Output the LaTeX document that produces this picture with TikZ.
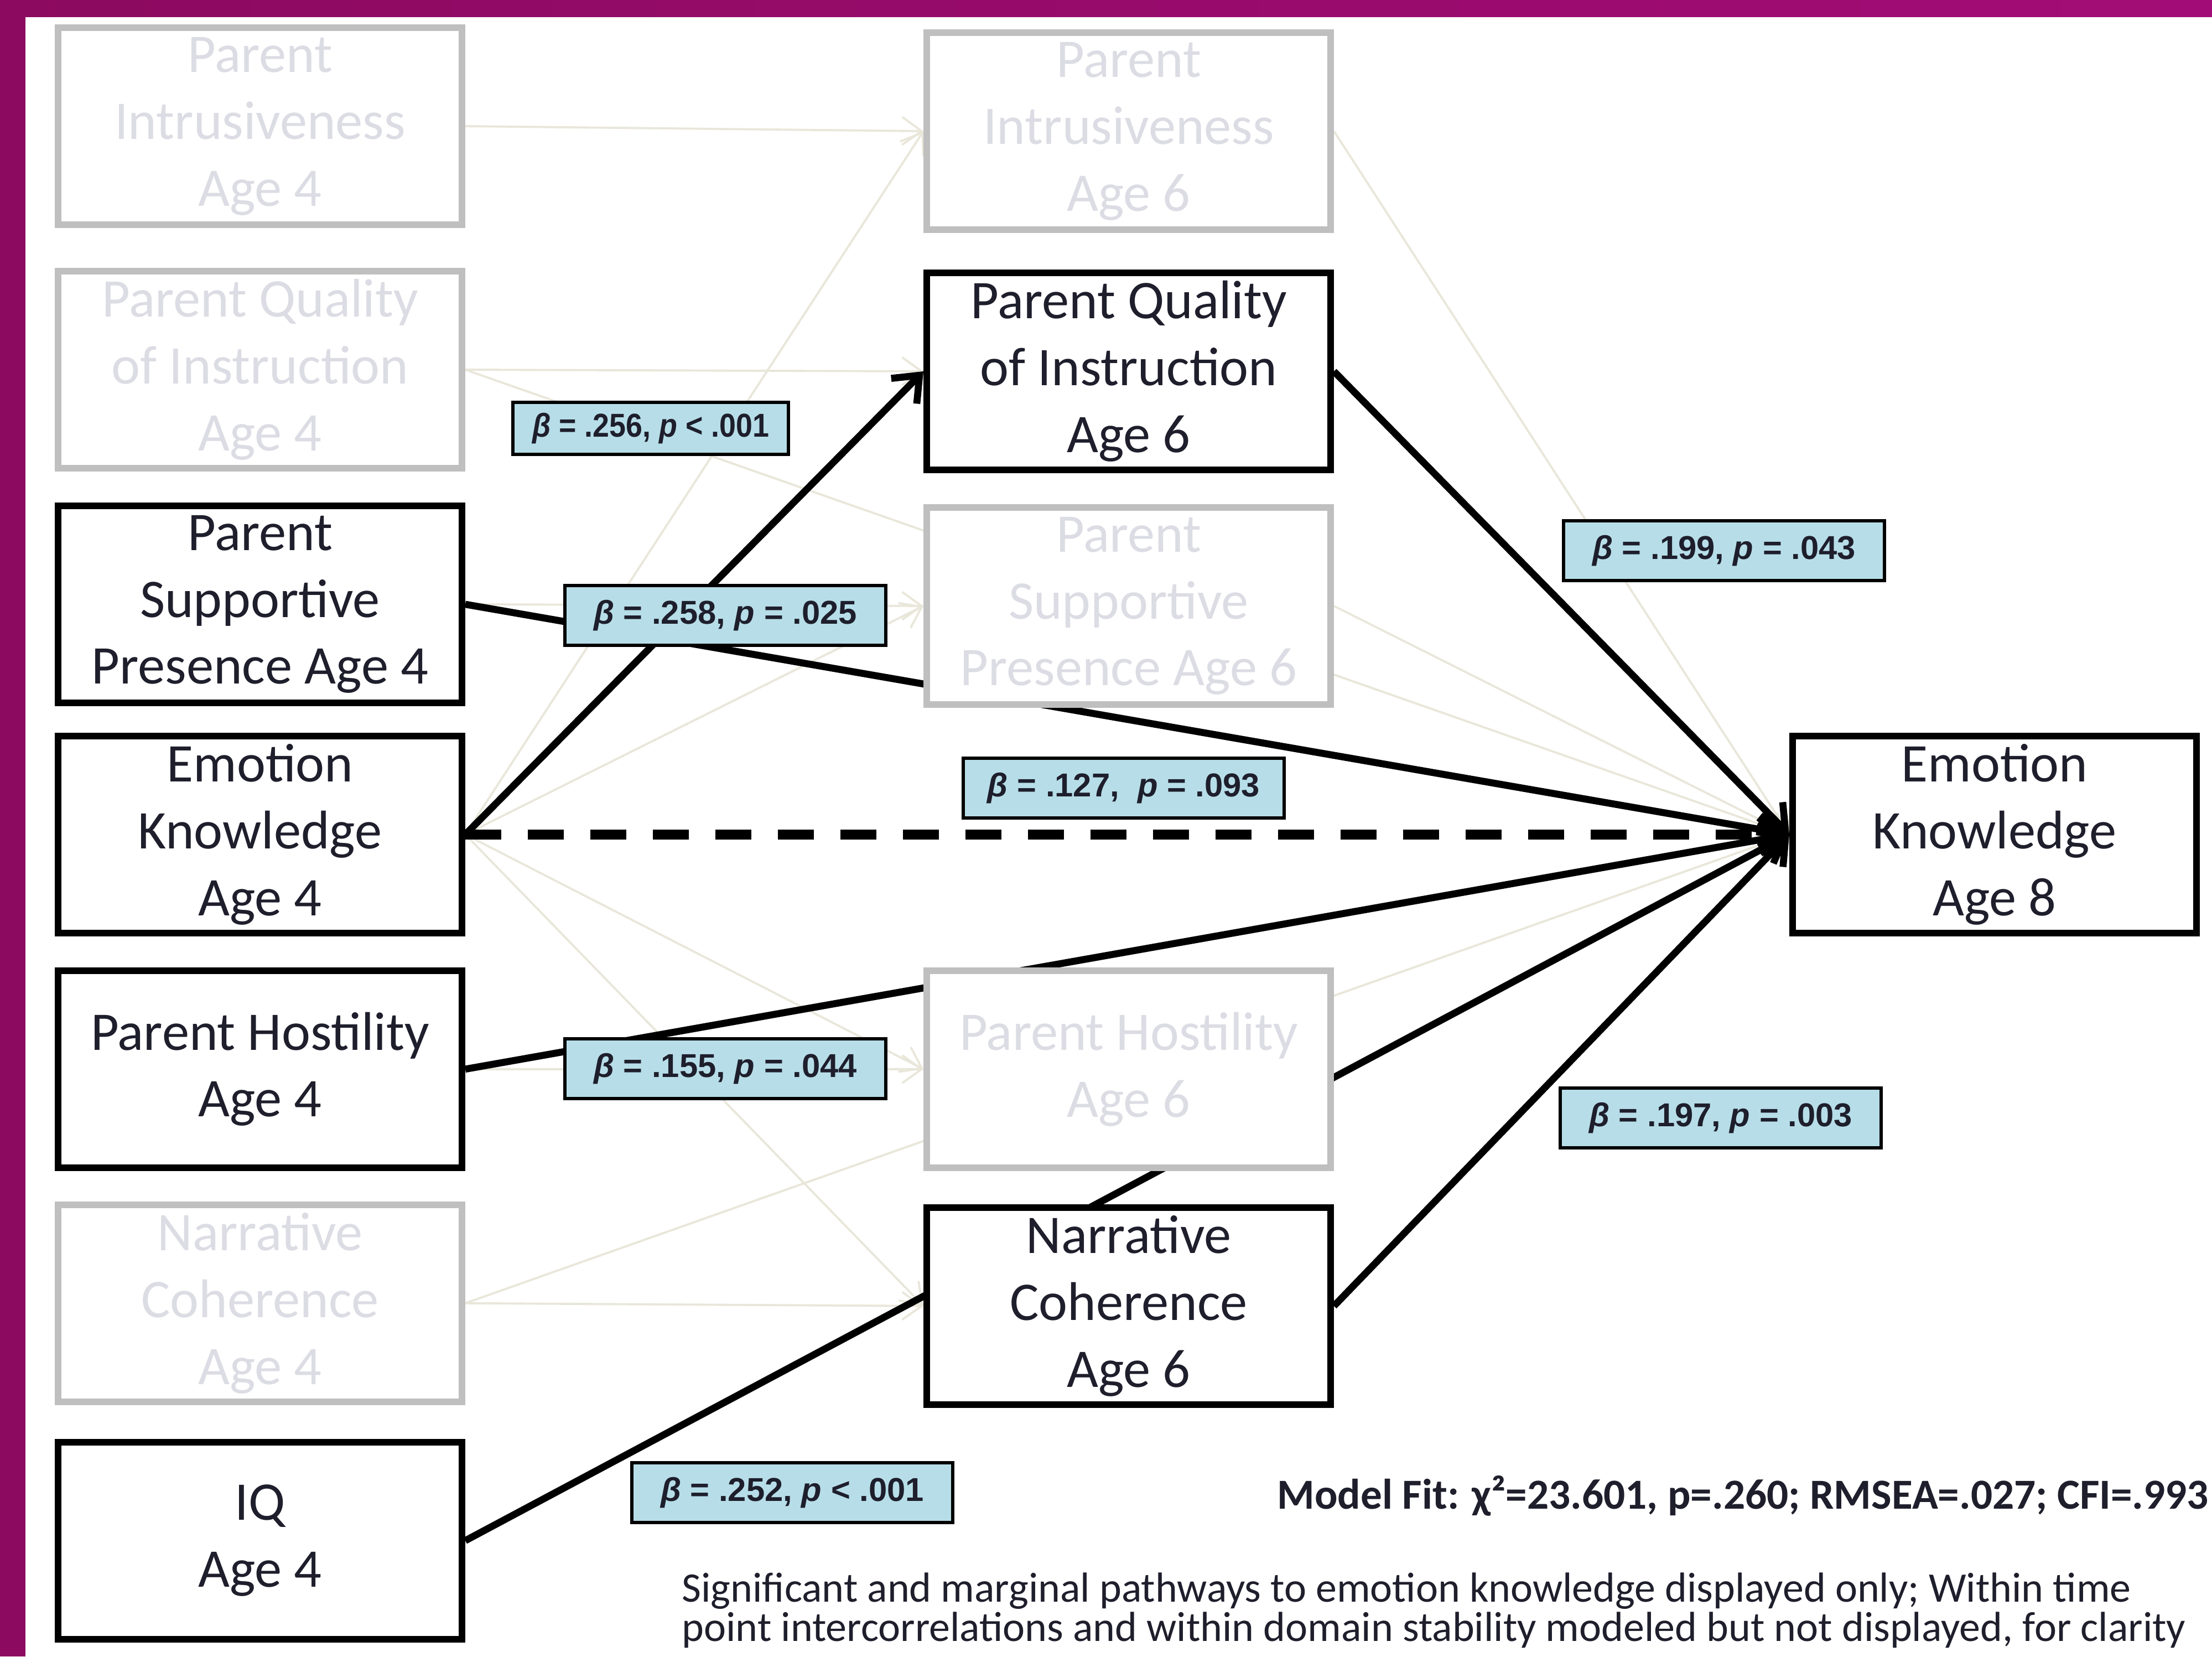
\documentclass[tikz,border=0pt]{standalone}
\usepackage{fontspec}
\setmainfont{Carlito}
\newfontfamily\labelfont{Liberation Sans}
\usepackage{graphicx}
\usepackage{tikz}
\usetikzlibrary{arrows.meta, positioning}
\definecolor{plum}{HTML}{8C0A60}
\definecolor{plumlight}{HTML}{A20C76}
\definecolor{boxgray}{HTML}{BFBFBF}
\definecolor{fadetext}{HTML}{DCDCE4}
\definecolor{fadeline}{HTML}{E9E7DA}
\definecolor{paleblue}{HTML}{B7DEE8}
\definecolor{inkdark}{HTML}{1E1E2C}
\pgfdeclarelayer{bg}
\pgfdeclarelayer{paths}
\pgfsetlayers{bg,paths,main}

\begin{document}
\begin{tikzpicture}[
  node distance=0.55cm,
  varbox/.style={draw=black, line width=3.4pt, fill=white, minimum width=7.30cm, minimum height=3.56cm, inner sep=0pt, align=center, text=inkdark, font=\fontsize{28}{34.4}\selectfont},
  fadebox/.style={varbox, draw=boxgray, text=fadetext},
  betabox/.style={draw=black, line width=1.8pt, fill=paleblue, minimum width=5.8cm, minimum height=1.08cm, inner sep=0pt, text=inkdark, font=\labelfont\bfseries\fontsize{17}{20}\selectfont},
  sigpath/.style={draw=black, line width=3.6pt, -{Straight Barb[length=4mm, width=6.5mm]}},
  margpath/.style={sigpath, line width=5pt, dash pattern=on 0.65cm off 0.48cm},
  faintpath/.style={draw=fadeline, line width=1.1pt, -{Straight Barb[length=3.5mm, width=5mm]}}
]
  \useasboundingbox (0,0) rectangle (39.98,-29.93);
  \clip (0,0) rectangle (39.98,-29.93);

  % Age 4
  \node[fadebox] (pi4) at (4.70,-2.28) {Parent\\Intrusiveness\\Age 4};
  \node[fadebox, below=0.72cm of pi4] (pqi4) {Parent Quality\\of Instruction\\Age 4};
  \node[varbox, below=0.56cm of pqi4] (psp4) {Parent\\Supportive\\Presence Age 4};
  \node[varbox, below=0.48cm of psp4] (ek4) {Emotion\\Knowledge\\Age 4};
  \node[varbox, below=0.56cm of ek4] (ph4) {Parent Hostility\\Age 4};
  \node[fadebox, below=0.55cm of ph4] (nc4) {Narrative\\Coherence\\Age 4};
  \node[varbox, below=0.61cm of nc4] (iq4) {IQ\\Age 4};

  % Age 6
  \node[fadebox] (pi6) at (20.40,-2.37) {Parent\\Intrusiveness\\Age 6};
  \node[varbox, below=0.66cm of pi6] (pqi6) {Parent Quality\\of Instruction\\Age 6};
  \node[fadebox, below=0.56cm of pqi6] (psp6) {Parent\\Supportive\\Presence Age 6};
  \node[fadebox, below=4.69cm of psp6] (ph6) {Parent Hostility\\Age 6};
  \node[varbox, below=0.60cm of ph6] (nc6) {Narrative\\Coherence\\Age 6};

  % Age 8
  \node[varbox, right=23.93cm of ek4] (ek8) {Emotion\\Knowledge\\Age 8};

  % coefficients
  \node[betabox, minimum width=4.98cm, minimum height=0.94cm] (b1) at (11.76,-7.74) {\scalebox{0.9}[1]{\textit{β} = .256, \textit{p} < .001}};
  \node[betabox] (b2) at (13.11,-11.12) {\textit{β} = .258, \textit{p} = .025};
  \node[betabox] (b3) at (20.31,-14.24) {\textit{β} = .127,~~\textit{p} = .093};
  \node[betabox] (b4) at (13.11,-19.31) {\textit{β} = .155, \textit{p} = .044};
  \node[betabox] (b5) at (14.32,-26.97) {\textit{β} = .252, \textit{p} < .001};
  \node[betabox] (b6) at (31.16,-9.95) {\textit{β} = .199, \textit{p} = .043};
  \node[betabox] (b7) at (31.10,-20.20) {\textit{β} = .197, \textit{p} = .003};

  \node[anchor=west, inner sep=0pt, text=inkdark, font=\bfseries\fontsize{22}{26}\selectfont] (fit) at (23.08,-27.03) {Model Fit: χ²=23.601, p=.260; RMSEA=.027; CFI=.993};
  \node[anchor=west, inner sep=0pt, align=left, text=inkdark, font=\fontsize{21.6}{20.2}\selectfont] (note) at (12.32,-29.10) {Significant and marginal pathways to emotion knowledge displayed only; Within time\\point intercorrelations and within domain stability modeled but not displayed, for clarity};

  \begin{pgfonlayer}{bg}
    \fill[white] (0,0) rectangle (39.98,-29.93);
    \fill[left color=plum, right color=plumlight] (0,0) rectangle (39.98,-0.30);
    \fill[plum] (0,0) rectangle (0.46,-29.93);
  \end{pgfonlayer}

  \begin{pgfonlayer}{paths}
    % modeled but not significant
    \draw[faintpath] (pi4.east) -- (pi6.west);
    \draw[faintpath] (pqi4.east) -- (pqi6.west);
    \draw[faintpath] (pqi4.east) -- (ek8.west);
    \draw[faintpath] (psp4.east) -- (psp6.west);
    \foreach \dest in {pi6, psp6, ph6, nc6}
      \draw[faintpath] (ek4.east) -- (\dest.west);
    \draw[faintpath] (ph4.east) -- (ph6.west);
    \draw[faintpath] (nc4.east) -- (nc6.west);
    \draw[faintpath] (nc4.east) -- (ek8.west);
    \foreach \src in {pi6, psp6}
      \draw[faintpath] (\src.east) -- (ek8.west);
    % significant and marginal
    \draw[sigpath] (ek4.east) -- (pqi6.west);
    \foreach \src in {psp4, ph4, pqi6, iq4, nc6}
      \draw[sigpath] (\src.east) -- (ek8.west);
    \draw[margpath] (ek4.east) -- (ek8.west);
  \end{pgfonlayer}
\end{tikzpicture}
\end{document}
